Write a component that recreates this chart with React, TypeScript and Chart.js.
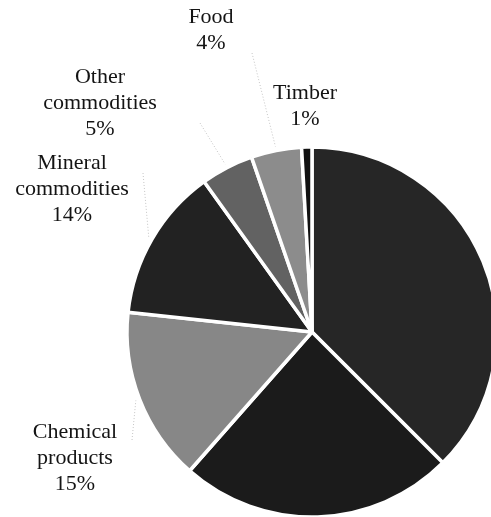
import React, { useEffect, useRef } from "react";
import { Chart, registerables } from "chart.js";

Chart.register(...registerables);

const categories = ["Unlabeled A", "Unlabeled B", "Chemical products", "Mineral commodities", "Other commodities", "Food", "Timber"];
const values = [37.5, 24, 15.2, 13.4, 4.6, 4.4, 0.9];
const percentLabels = ["", "", "15%", "14%", "5%", "4%", "1%"];
const labelLines = [[], [], ["Chemical", "products"], ["Mineral", "commodities"], ["Other", "commodities"], ["Food"], ["Timber"]];

const sliceColors = ["#262626", "#1b1b1b", "#878787", "#222222", "#626262", "#8c8c8c", "#111111"];
// label layout (page pixels): x center, y of first line, leader start (or null)
const labelLayout: any[] = [
  null,
  null,
  { x: 75, y: 432, leader: [132, 440] },
  { x: 72, y: 163, leader: [143, 173] },
  { x: 100, y: 77, leader: [200, 123] },
  { x: 211, y: 17, leader: [252, 53] },
  { x: 305, y: 93, leader: null },
];

const labelPlugin = {
  id: "sliceLabels",
  afterDraw(chart: any) {
    const ctx = chart.ctx;
    const meta = chart.getDatasetMeta(0);
    ctx.save();
    meta.data.forEach((arc: any, i: number) => {
      const lay = labelLayout[i];
      if (!lay) return;
      const p = arc.getProps(["x", "y", "startAngle", "endAngle", "outerRadius"], true);
      const mid = (p.startAngle + p.endAngle) / 2;
      if (lay.leader) {
        const ex = p.x + Math.cos(mid) * (p.outerRadius + 4);
        const ey = p.y + Math.sin(mid) * (p.outerRadius + 4);
        ctx.beginPath();
        ctx.setLineDash([1, 2]);
        ctx.strokeStyle = "#c4c4c4";
        ctx.lineWidth = 1;
        ctx.moveTo(lay.leader[0], lay.leader[1]);
        ctx.lineTo(ex, ey);
        ctx.stroke();
        ctx.setLineDash([]);
      }
      ctx.fillStyle = "#141414";
      ctx.font = "22px 'Liberation Serif', 'Times New Roman', serif";
      ctx.textAlign = "center";
      ctx.textBaseline = "middle";
      const lines = [...labelLines[i], percentLabels[i]];
      lines.forEach((t: string, k: number) => {
        ctx.fillText(t, lay.x, lay.y + k * 26);
      });
    });
    ctx.restore();
  },
};

export default function App() {
  const ref = useRef<HTMLCanvasElement>(null);
  useEffect(() => {
    const canvas = ref.current!;
    const chart = new Chart(canvas, {
      type: "pie",
      data: {
        labels: categories,
        datasets: [
          {
            data: values,
            backgroundColor: sliceColors,
            borderColor: "#ffffff",
            borderWidth: 3.5,
            hoverOffset: 0,
          },
        ],
      },
      options: {
        responsive: false,
        animation: false,
        radius: 185,
        layout: { padding: { left: 128, top: 148, right: 4, bottom: 4 } },
        plugins: {
          legend: { display: false },
          tooltip: { enabled: false },
        },
      } as any,
      plugins: [labelPlugin],
    });
    return () => chart.destroy();
  }, []);
  return (
    <div style={{ position: "fixed", left: 0, top: 0, width: 491, height: 517, overflow: "hidden", background: "#fff" }}>
      <canvas ref={ref} width={500} height={520} style={{ display: "block", width: 500, height: 520 }} />
    </div>
  );
}
